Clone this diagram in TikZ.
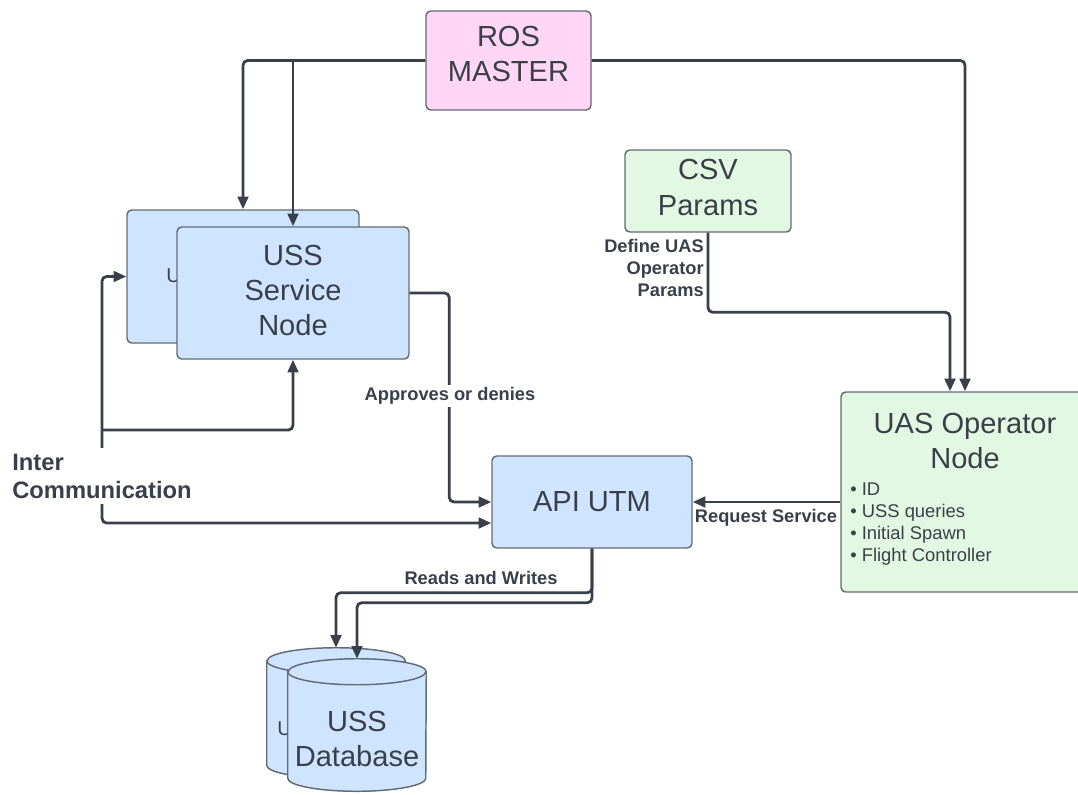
\documentclass[tikz,border=0pt]{standalone}
\usepackage{fontspec}
\setmainfont{Liberation Sans}
\usetikzlibrary{arrows.meta,calc}
\definecolor{ink}{HTML}{3A4049}
\definecolor{edge}{HTML}{646B75}
\definecolor{bluefill}{HTML}{CFE4FF}
\definecolor{pinkfill}{HTML}{FFD6F5}
\definecolor{greenfill}{HTML}{E2F8E2}
\newcommand\px{0.75pt}
% cylinder outline drawn around an (invisible) rectangle node
\newcommand\drawcyl[1]{%
  \draw[cyl] ($(#1.north west)+(0,13)$) -- ($(#1.south west)+(0,-13)$)
    arc[start angle=180, end angle=0, x radius=69, y radius=13]
    -- ($(#1.north east)+(0,13)$)
    arc[start angle=0, end angle=-180, x radius=69, y radius=13] -- cycle;
  \draw[cylrim] ($(#1.north west)+(0,13)$)
    arc[start angle=180, end angle=0, x radius=69, y radius=13];
}
\begin{document}
\begin{tikzpicture}[x=0.75pt,y=-0.75pt,
  box/.style={draw=edge, line width=1.1pt, rounded corners=3.5pt, inner sep=0pt,
    align=center, text=ink, font=\fontsize{21.8pt}{26.3pt}\selectfont},
  bigtxt/.style={text=ink, align=center, inner sep=0pt, font=\fontsize{21.8pt}{26.3pt}\selectfont},
  backtxt/.style={text=ink, inner sep=0pt, font=\fontsize{15pt}{18pt}\selectfont},
  listtxt/.style={text=ink, align=left, inner sep=0pt, font=\fontsize{13.8pt}{16.5pt}\selectfont},
  lbl/.style={text=ink, inner sep=1.5pt, font=\bfseries\fontsize{13.7pt}{16.2pt}\selectfont},
  ghost/.style={inner sep=0pt},
  cyl/.style={draw=edge, line width=1.1pt, fill=bluefill},
  cylrim/.style={draw=edge, line width=1.1pt},
  conn/.style={draw=ink, line width=2.1pt, rounded corners=3.5pt,
    -{Triangle[length=9.5pt,width=8pt]}},
  conn2/.style={draw=ink, line width=2.1pt, rounded corners=3.5pt,
    {Triangle[length=9.5pt,width=8pt]}-{Triangle[length=9.5pt,width=8pt]}},
]
\clip (0,0) rectangle (1078,794);
\fill[white] (0,0) rectangle (1078,794);

% ---- boxes ----
\node[box, fill=pinkfill, minimum width=165*\px, minimum height=99*\px] (ros) at (508.5,60.5) {};
\node[bigtxt] (rostxt) at (508.5,54) {ROS\\MASTER};

\node[box, fill=bluefill, minimum width=232*\px, minimum height=133*\px] (ussB) at (243,276.5) {};
\node[backtxt, anchor=west] (ussBtxt) at (166,276) {USS};
\node[box, fill=bluefill, minimum width=232*\px, minimum height=132*\px] (ussF) at (293,293) {};
\node[bigtxt] (ussFtxt) at (293,290.5) {USS\\Service\\Node};

\node[box, fill=greenfill, minimum width=166*\px, minimum height=82*\px] (csv) at (708,191) {};
\node[bigtxt] (csvtxt) at (708,187.5) {CSV\\Params};

\node[box, fill=bluefill, minimum width=200*\px, minimum height=92*\px] (api) at (592,502) {API UTM};

\node[box, fill=greenfill, minimum width=248*\px, minimum height=200*\px] (uas) at (965,492) {};
\node[bigtxt] (uastitle) at (965,441) {UAS Operator\\Node};
\node[listtxt, anchor=west] (uaslist) at (850,524) {• ID\\• USS queries\\• Initial Spawn\\• Flight Controller};

% ---- databases ----
\node[ghost, minimum width=138*\px, minimum height=130*\px] (dbB) at (336,713) {};
\drawcyl{dbB}
\node[backtxt, anchor=west] (dbBtxt) at (277,729) {USS};
\node[ghost, minimum width=138*\px, minimum height=132*\px] (dbF) at (357,725) {};
\drawcyl{dbF}
\node[bigtxt] (dbFtxt) at (357,739) {USS\\Database};

% ---- connectors ----
\draw[conn] (ros.west) -| (ussB.north);
\draw[conn] (ros.west -| ussF.north) -- (ussF.north);
\draw[conn] (ros.east) -| (uas.north);

\draw[conn] (csv.south) |- ($(uas.north)+(-15,-79)$) -- ($(uas.north)+(-15,0)$);
\node[lbl, align=right, anchor=east] (deflbl) at (706,268) {Define UAS\\Operator\\Params};

\draw[conn] (ussF.east) -| ($(api.west)+(-42,0)$) -- (api.west);
\node[lbl, fill=white] (apprlbl) at (450,396) {Approves or denies};

\coordinate (icl) at (102,523);
\draw[conn2] (ussB.west) -| (icl) -- (icl -| api.west);
\coordinate (icj) at (102,430);
\draw[conn] (icj) -| (ussF.south);
\node[lbl, fill=white, align=left, inner xsep=0pt, inner ysep=4pt,
  font=\bfseries\fontsize{17.8pt}{21pt}\selectfont] (iclbl) at (102,476) {Inter\\Communication};

\draw[conn] (api.east -| uas.west) -- (api.east);
\node[lbl] (reqlbl) at (766,518) {Request Service};

\draw[conn] (api.south) |- ($(dbB.north)+(0,-55)$) -- (dbB.north);
\draw[conn] (api.south) |- ($(dbF.north)+(0,-56)$) -- (dbF.north);
\node[lbl] (rwlbl) at (481,578) {Reads and Writes};
\end{tikzpicture}
\end{document}
